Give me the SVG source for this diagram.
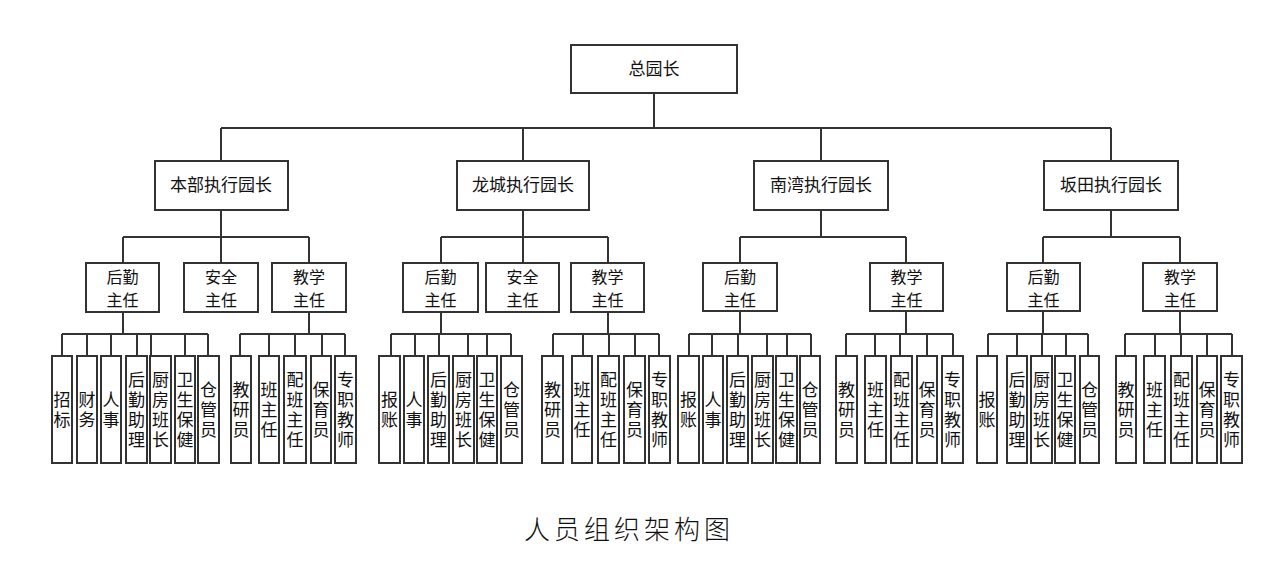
<svg xmlns="http://www.w3.org/2000/svg" width="1283" height="579" viewBox="0 0 1283 579">
<style>
.b{fill:#fff;stroke:#333;stroke-width:2}
.c{fill:none;stroke:#333;stroke-width:2}
.t{font-family:"Noto Sans CJK SC","Noto Sans CJK JP",sans-serif;font-size:17px;fill:#111;text-anchor:middle}
.m{font-size:16px}
.v{writing-mode:vertical-rl;letter-spacing:3px;font-size:17px}
.title{font-family:"Liberation Serif","Noto Sans CJK SC",serif;font-size:26px;fill:#111;text-anchor:middle;letter-spacing:4px;font-weight:300}
</style>
<rect width="1283" height="579" fill="#fff"/>
<g id="connectors">
<path class="c" d="M654 93V128M221 128H1111M221 128V161M523 128V161M821 128V161M1111 128V161
M221 210V237M523 210V237M821 210V237M1111 210V237
M123 237H309M123 237V263M221 237V263M309 237V263
M441 237H608M441 237V263M523 237V263M608 237V263
M740 237H906M740 237V263M906 237V263
M1043 237H1180M1043 237V263M1180 237V263
M123 312V334M62 334H208M62 334V356M87 334V356M111 334V356M137 334V356M151 334V356M185 334V356M208 334V356
M309 312V334M240 334H345M240 334V356M269 334V356M295 334V356M322 334V356M345 334V356
M441 312V334M391 334H511M391 334V356M415 334V356M439 334V356M468 334V356M487 334V356M511 334V356
M608 312V334M553 334H659M553 334V356M583 334V356M609 334V356M635 334V356M659 334V356
M740 312V334M689 334H811M689 334V356M712 334V356M738 334V356M767 334V356M787 334V356M811 334V356
M906 312V334M846 334H953M846 334V356M875 334V356M900 334V356M927 334V356M953 334V356
M1043 312V334M988 334H1088M988 334V356M1017 334V356M1042 334V356M1066 334V356M1088 334V356
M1180 312V334M1125 334H1232M1125 334V356M1155 334V356M1181 334V356M1207 334V356M1232 334V356"/>
</g>
<g id="n-top"><rect class="b" x="571" y="45" width="166" height="48"/><text class="t" x="654" y="75">总园长</text></g>
<g id="n-benbu"><rect class="b" x="155" y="161" width="133" height="49"/><text class="t" x="221" y="191">本部执行园长</text></g>
<g id="n-longcheng"><rect class="b" x="457" y="161" width="132" height="49"/><text class="t" x="523" y="191">龙城执行园长</text></g>
<g id="n-nanwan"><rect class="b" x="754" y="161" width="134" height="49"/><text class="t" x="821" y="191">南湾执行园长</text></g>
<g id="n-bantian"><rect class="b" x="1044" y="161" width="134" height="49"/><text class="t" x="1111" y="191">坂田执行园长</text></g>

<g id="n-bb-hq"><rect class="b" x="86" y="263" width="73" height="49"/><text class="t m"><tspan x="122.5" y="282.5">后勤</tspan><tspan x="122.5" y="306">主任</tspan></text></g>
<g id="n-bb-aq"><rect class="b" x="184" y="263" width="74" height="49"/><text class="t m"><tspan x="221" y="282.5">安全</tspan><tspan x="221" y="306">主任</tspan></text></g>
<g id="n-bb-jx"><rect class="b" x="272" y="263" width="74" height="49"/><text class="t m"><tspan x="309" y="282.5">教学</tspan><tspan x="309" y="306">主任</tspan></text></g>
<g id="n-lc-hq"><rect class="b" x="403" y="263" width="75" height="49"/><text class="t m"><tspan x="440.5" y="282.5">后勤</tspan><tspan x="440.5" y="306">主任</tspan></text></g>
<g id="n-lc-aq"><rect class="b" x="486" y="263" width="73" height="49"/><text class="t m"><tspan x="522.5" y="282.5">安全</tspan><tspan x="522.5" y="306">主任</tspan></text></g>
<g id="n-lc-jx"><rect class="b" x="571" y="263" width="73" height="49"/><text class="t m"><tspan x="607.5" y="282.5">教学</tspan><tspan x="607.5" y="306">主任</tspan></text></g>
<g id="n-nw-hq"><rect class="b" x="703" y="263" width="74" height="48"/><text class="t m"><tspan x="740" y="282.5">后勤</tspan><tspan x="740" y="306">主任</tspan></text></g>
<g id="n-nw-jx"><rect class="b" x="870" y="263" width="73" height="48"/><text class="t m"><tspan x="906.5" y="282.5">教学</tspan><tspan x="906.5" y="306">主任</tspan></text></g>
<g id="n-bt-hq"><rect class="b" x="1007" y="263" width="73" height="48"/><text class="t m"><tspan x="1043.5" y="282.5">后勤</tspan><tspan x="1043.5" y="306">主任</tspan></text></g>
<g id="n-bt-jx"><rect class="b" x="1143" y="263" width="74" height="48"/><text class="t m"><tspan x="1180" y="282.5">教学</tspan><tspan x="1180" y="306">主任</tspan></text></g>

<g id="l-bb-1"><rect class="b" x="52" y="356" width="20" height="107"/><text class="t v" x="62" y="411">招标</text></g>
<g id="l-bb-2"><rect class="b" x="77" y="356" width="20" height="107"/><text class="t v" x="87" y="411">财务</text></g>
<g id="l-bb-3"><rect class="b" x="101" y="356" width="20" height="107"/><text class="t v" x="111" y="411">人事</text></g>
<g id="l-bb-4"><rect class="b" x="126" y="356" width="21" height="107"/><text class="t v" x="136.5" y="411">后勤助理</text></g>
<g id="l-bb-5"><rect class="b" x="150" y="356" width="21" height="107"/><text class="t v" x="160.5" y="411">厨房班长</text></g>
<g id="l-bb-6"><rect class="b" x="175" y="356" width="20" height="107"/><text class="t v" x="185" y="411">卫生保健</text></g>
<g id="l-bb-7"><rect class="b" x="198" y="356" width="21" height="107"/><text class="t v" x="208.5" y="411">仓管员</text></g>
<g id="l-bb-8"><rect class="b" x="231" y="356" width="20" height="107"/><text class="t v" x="241" y="411">教研员</text></g>
<g id="l-bb-9"><rect class="b" x="259" y="356" width="20" height="107"/><text class="t v" x="269" y="411">班主任</text></g>
<g id="l-bb-10"><rect class="b" x="284" y="356" width="22" height="107"/><text class="t v" x="295" y="411">配班主任</text></g>
<g id="l-bb-11"><rect class="b" x="311" y="356" width="20" height="107"/><text class="t v" x="321" y="411">保育员</text></g>
<g id="l-bb-12"><rect class="b" x="335" y="356" width="21" height="107"/><text class="t v" x="345.5" y="411">专职教师</text></g>

<g id="l-lc-1"><rect class="b" x="379" y="356" width="21" height="107"/><text class="t v" x="389.5" y="411">报账</text></g>
<g id="l-lc-2"><rect class="b" x="404" y="356" width="20" height="107"/><text class="t v" x="414" y="411">人事</text></g>
<g id="l-lc-3"><rect class="b" x="428" y="356" width="21" height="107"/><text class="t v" x="438.5" y="411">后勤助理</text></g>
<g id="l-lc-4"><rect class="b" x="453" y="356" width="21" height="107"/><text class="t v" x="463.5" y="411">厨房班长</text></g>
<g id="l-lc-5"><rect class="b" x="477" y="356" width="20" height="107"/><text class="t v" x="487" y="411">卫生保健</text></g>
<g id="l-lc-6"><rect class="b" x="501" y="356" width="21" height="107"/><text class="t v" x="511.5" y="411">仓管员</text></g>
<g id="l-lc-7"><rect class="b" x="542" y="356" width="21" height="107"/><text class="t v" x="552.5" y="411">教研员</text></g>
<g id="l-lc-8"><rect class="b" x="572" y="356" width="20" height="107"/><text class="t v" x="582" y="411">班主任</text></g>
<g id="l-lc-9"><rect class="b" x="598" y="356" width="21" height="107"/><text class="t v" x="608.5" y="411">配班主任</text></g>
<g id="l-lc-10"><rect class="b" x="624" y="356" width="21" height="107"/><text class="t v" x="634.5" y="411">保育员</text></g>
<g id="l-lc-11"><rect class="b" x="649" y="356" width="21" height="107"/><text class="t v" x="659.5" y="411">专职教师</text></g>

<g id="l-nw-1"><rect class="b" x="678" y="356" width="21" height="107"/><text class="t v" x="688.5" y="411">报账</text></g>
<g id="l-nw-2"><rect class="b" x="703" y="356" width="20" height="107"/><text class="t v" x="713" y="411">人事</text></g>
<g id="l-nw-3"><rect class="b" x="727" y="356" width="21" height="107"/><text class="t v" x="737.5" y="411">后勤助理</text></g>
<g id="l-nw-4"><rect class="b" x="752" y="356" width="21" height="107"/><text class="t v" x="762.5" y="411">厨房班长</text></g>
<g id="l-nw-5"><rect class="b" x="776" y="356" width="21" height="107"/><text class="t v" x="786.5" y="411">卫生保健</text></g>
<g id="l-nw-6"><rect class="b" x="800" y="356" width="20" height="107"/><text class="t v" x="810" y="411">仓管员</text></g>
<g id="l-nw-7"><rect class="b" x="836" y="356" width="21" height="107"/><text class="t v" x="846.5" y="411">教研员</text></g>
<g id="l-nw-8"><rect class="b" x="865" y="356" width="21" height="107"/><text class="t v" x="875.5" y="411">班主任</text></g>
<g id="l-nw-9"><rect class="b" x="891" y="356" width="21" height="107"/><text class="t v" x="901.5" y="411">配班主任</text></g>
<g id="l-nw-10"><rect class="b" x="917" y="356" width="20" height="107"/><text class="t v" x="927" y="411">保育员</text></g>
<g id="l-nw-11"><rect class="b" x="942" y="356" width="21" height="107"/><text class="t v" x="952.5" y="411">专职教师</text></g>

<g id="l-bt-1"><rect class="b" x="977" y="356" width="20" height="107"/><text class="t v" x="987" y="411">报账</text></g>
<g id="l-bt-2"><rect class="b" x="1007" y="356" width="20" height="107"/><text class="t v" x="1017" y="411">后勤助理</text></g>
<g id="l-bt-3"><rect class="b" x="1031" y="356" width="21" height="107"/><text class="t v" x="1041.5" y="411">厨房班长</text></g>
<g id="l-bt-4"><rect class="b" x="1055" y="356" width="20" height="107"/><text class="t v" x="1065" y="411">卫生保健</text></g>
<g id="l-bt-5"><rect class="b" x="1080" y="356" width="19" height="107"/><text class="t v" x="1089.5" y="411">仓管员</text></g>
<g id="l-bt-6"><rect class="b" x="1116" y="356" width="20" height="107"/><text class="t v" x="1126" y="411">教研员</text></g>
<g id="l-bt-7"><rect class="b" x="1144" y="356" width="21" height="107"/><text class="t v" x="1154.5" y="411">班主任</text></g>
<g id="l-bt-8"><rect class="b" x="1171" y="356" width="21" height="107"/><text class="t v" x="1181.5" y="411">配班主任</text></g>
<g id="l-bt-9"><rect class="b" x="1197" y="356" width="20" height="107"/><text class="t v" x="1207" y="411">保育员</text></g>
<g id="l-bt-10"><rect class="b" x="1221" y="356" width="21" height="107"/><text class="t v" x="1231.5" y="411">专职教师</text></g>

<text id="title" class="title" x="629" y="539">人员组织架构图</text>
</svg>
